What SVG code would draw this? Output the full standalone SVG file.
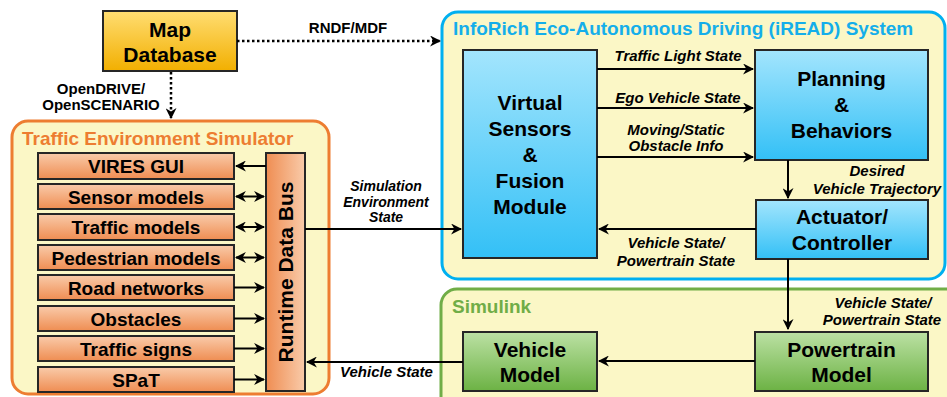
<svg xmlns="http://www.w3.org/2000/svg" width="947" height="397" viewBox="0 0 947 397">
<defs>
<linearGradient id="gBlue" x1="0" y1="0" x2="0" y2="1"><stop offset="0" stop-color="#A3E5FD"/><stop offset="1" stop-color="#33C0F6"/></linearGradient>
<linearGradient id="gGreen" x1="0" y1="0" x2="0" y2="1"><stop offset="0" stop-color="#BCE1A4"/><stop offset="1" stop-color="#6CB244"/></linearGradient>
<linearGradient id="gGold" x1="0" y1="0" x2="0" y2="1"><stop offset="0" stop-color="#FFDD72"/><stop offset="1" stop-color="#F2AF00"/></linearGradient>
<linearGradient id="gOrange" x1="0" y1="0" x2="0" y2="1"><stop offset="0" stop-color="#F9CBAA"/><stop offset="1" stop-color="#EF8D52"/></linearGradient>
<linearGradient id="gBus" x1="1" y1="0" x2="0" y2="0"><stop offset="0" stop-color="#F9CBAA"/><stop offset="1" stop-color="#EF8D52"/></linearGradient>
<marker id="ah" viewBox="0 0 10 10" refX="9" refY="5" markerWidth="11" markerHeight="11" markerUnits="userSpaceOnUse" orient="auto-start-reverse">
<path d="M0,0 L10,5 L0,10 L3,5 Z" fill="#000"/>
</marker>
<style>
.grp{stroke-width:3;fill:#FBF7C6}
.node{stroke:#262626;stroke-width:2}
.nt{font-family:"Liberation Sans",Arial,sans-serif;font-weight:bold;font-size:21px;fill:#000;text-anchor:middle}
.it{font-family:"Liberation Sans",Arial,sans-serif;font-weight:bold;font-size:19px;fill:#000;text-anchor:middle}
.el{font-family:"Liberation Sans",Arial,sans-serif;font-weight:bold;font-style:italic;font-size:15px;fill:#000;text-anchor:middle}
.sm{font-size:14px}
.pl{font-family:"Liberation Sans",Arial,sans-serif;font-weight:bold;font-size:15px;fill:#000;text-anchor:middle}
.title{font-family:"Liberation Sans",Arial,sans-serif;font-weight:bold;font-size:19px}
.c{fill:none;stroke:#000;stroke-width:2}
.d{fill:none;stroke:#000;stroke-width:2.5;stroke-dasharray:2.5 2.5}
</style>
</defs>
<rect width="947" height="397" fill="#fff"/>

<g id="traffic-env-sim">
<rect class="grp" x="12" y="121" width="317" height="273" rx="16" stroke="#ED7D31"/>
<text class="title" x="22" y="145" fill="#ED7D31" font-size="18.5">Traffic Environment Simulator</text>
</g>
<g id="iread-system">
<rect class="grp" x="442" y="12" width="503" height="267" rx="16" stroke="#00B0F0"/>
<text class="title" x="453" y="35" fill="#14AEEA">InfoRich Eco-Autonomous Driving (iREAD) System</text>
</g>
<g id="simulink">
<rect class="grp" x="441" y="289" width="530" height="130" rx="16" stroke="#70AD47"/>
<text class="title" x="452" y="313" fill="#70AD47">Simulink</text>
</g>

<g id="map-database">
<rect class="node" x="103" y="11" width="134" height="60" fill="url(#gGold)"/>
<text class="nt" x="170" y="37">Map</text>
<text class="nt" x="170" y="62">Database</text>
</g>

<g id="vires-gui"><rect class="node" x="38" y="153" width="196" height="26" fill="url(#gOrange)"/><text class="it" x="136" y="173">VIRES GUI</text></g>
<g id="sensor-models"><rect class="node" x="38" y="184" width="196" height="25" fill="url(#gOrange)"/><text class="it" x="136" y="203.5">Sensor models</text></g>
<g id="traffic-models"><rect class="node" x="38" y="214" width="196" height="26" fill="url(#gOrange)"/><text class="it" x="136" y="234">Traffic models</text></g>
<g id="pedestrian-models"><rect class="node" x="38" y="245" width="196" height="25" fill="url(#gOrange)"/><text class="it" x="136" y="264.5">Pedestrian models</text></g>
<g id="road-networks"><rect class="node" x="38" y="275" width="196" height="25" fill="url(#gOrange)"/><text class="it" x="136" y="294.5">Road networks</text></g>
<g id="obstacles"><rect class="node" x="38" y="306" width="196" height="25" fill="url(#gOrange)"/><text class="it" x="136" y="325.5">Obstacles</text></g>
<g id="traffic-signs"><rect class="node" x="38" y="336" width="196" height="25" fill="url(#gOrange)"/><text class="it" x="136" y="355.5">Traffic signs</text></g>
<g id="spat"><rect class="node" x="38" y="367" width="196" height="25" fill="url(#gOrange)"/><text class="it" x="136" y="386.5">SPaT</text></g>

<g id="runtime-data-bus">
<rect class="node" x="266" y="153" width="39" height="238" fill="url(#gBus)"/>
<text class="nt" transform="translate(293,272) rotate(-90)">Runtime Data Bus</text>
</g>

<g id="virtual-sensors">
<rect class="node" x="463" y="50" width="134" height="208" fill="url(#gBlue)"/>
<text class="nt" x="530" y="110">Virtual</text>
<text class="nt" x="530" y="136">Sensors</text>
<text class="nt" x="530" y="162">&amp;</text>
<text class="nt" x="530" y="188">Fusion</text>
<text class="nt" x="530" y="214">Module</text>
</g>
<g id="planning-behaviors">
<rect class="node" x="755" y="50" width="173" height="110" fill="url(#gBlue)"/>
<text class="nt" x="841.5" y="86">Planning</text>
<text class="nt" x="841.5" y="112">&amp;</text>
<text class="nt" x="841.5" y="138">Behaviors</text>
</g>
<g id="actuator-controller">
<rect class="node" x="756" y="200" width="172" height="59" fill="url(#gBlue)"/>
<text class="nt" x="842" y="224">Actuator/</text>
<text class="nt" x="842" y="250">Controller</text>
</g>
<g id="vehicle-model">
<rect class="node" x="463" y="332" width="134" height="59" fill="url(#gGreen)"/>
<text class="nt" x="530" y="357">Vehicle</text>
<text class="nt" x="530" y="382">Model</text>
</g>
<g id="powertrain-model">
<rect class="node" x="755" y="332" width="173" height="59" fill="url(#gGreen)"/>
<text class="nt" x="841.5" y="357">Powertrain</text>
<text class="nt" x="841.5" y="382">Model</text>
</g>

<g id="connectors">
<path class="d" d="M237,41 H440" marker-end="url(#ah)"/>
<text class="pl" x="348" y="33">RNDF/MDF</text>
<path class="d" d="M171,72 V118" marker-end="url(#ah)"/>
<text class="pl sm" x="101" y="94">OpenDRIVE/</text>
<text class="pl sm" x="101" y="110">OpenSCENARIO</text>

<path class="c" d="M266,166 H236" marker-end="url(#ah)"/>
<path class="c" d="M236,196.5 H264" marker-start="url(#ah)" marker-end="url(#ah)"/>
<path class="c" d="M236,227 H264" marker-start="url(#ah)" marker-end="url(#ah)"/>
<path class="c" d="M236,257.5 H264" marker-start="url(#ah)" marker-end="url(#ah)"/>
<path class="c" d="M234,287.5 H264" marker-end="url(#ah)"/>
<path class="c" d="M234,318.5 H264" marker-end="url(#ah)"/>
<path class="c" d="M234,348.5 H264" marker-end="url(#ah)"/>
<path class="c" d="M234,379.5 H264" marker-end="url(#ah)"/>

<path class="c" d="M305,229 H461" marker-end="url(#ah)"/>
<text class="el sm" x="386" y="191">Simulation</text>
<text class="el sm" x="386" y="207">Environment</text>
<text class="el sm" x="386" y="222">State</text>

<path class="c" d="M597,69 H753" marker-end="url(#ah)"/>
<text class="el" x="678" y="61">Traffic Light State</text>
<path class="c" d="M597,108 H753" marker-end="url(#ah)"/>
<text class="el" x="678" y="103">Ego Vehicle State</text>
<path class="c" d="M597,157 H753" marker-end="url(#ah)"/>
<text class="el" x="676" y="135">Moving/Static</text>
<text class="el" x="676" y="151">Obstacle Info</text>

<path class="c" d="M788,160 V198" marker-end="url(#ah)"/>
<text class="el" x="877" y="176">Desired</text>
<text class="el" x="877" y="194" font-size="14.5">Vehicle Trajectory</text>

<path class="c" d="M756,229 H599" marker-end="url(#ah)"/>
<text class="el" x="676" y="248">Vehicle State/</text>
<text class="el" x="676" y="266">Powertrain State</text>

<path class="c" d="M788,259 V329" marker-end="url(#ah)"/>
<text class="el" x="883" y="308">Vehicle State/</text>
<text class="el" x="882" y="325">Powertrain State</text>

<path class="c" d="M755,361 H599" marker-end="url(#ah)"/>
<path class="c" d="M463,362 H307" marker-end="url(#ah)"/>
<text class="el" x="386.5" y="377">Vehicle State</text>
</g>
</svg>
